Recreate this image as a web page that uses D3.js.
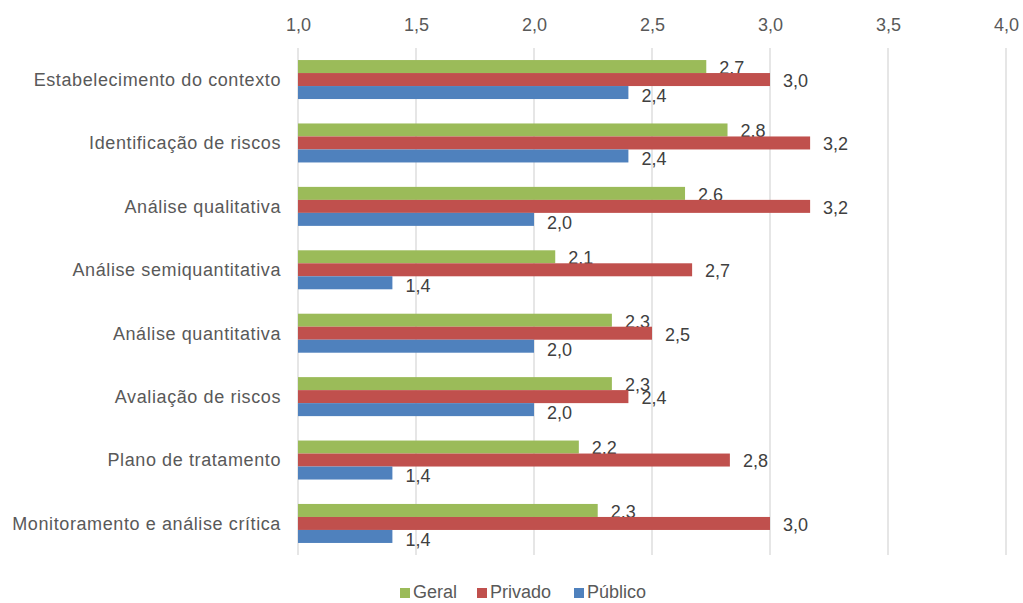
<!DOCTYPE html>
<html>
  <head>
    <meta charset="utf-8">
    <script src="https://cdn.jsdelivr.net/npm/d3@7/dist/d3.min.js"></script>
    <style>
      body { margin: 0; background: #fff; }
      text { font-family: Arial, "Liberation Sans", sans-serif; }
    </style>
  </head>
  <body>
    <svg width="1023" height="603"></svg>
    <script>
      // dados
      const categories = [
        'Estabelecimento do contexto',
        'Identificação de riscos',
        'Análise qualitativa',
        'Análise semiquantitativa ',
        'Análise quantitativa',
        'Avaliação de riscos',
        'Plano de tratamento',
        'Monitoramento e análise crítica'
      ]
      const geral = [2.73, 2.82, 2.64, 2.09, 2.33, 2.33, 2.19, 2.27]
      const privado = [3.0, 3.17, 3.17, 2.67, 2.5, 2.4, 2.83, 3.0]
      const publico = [2.4, 2.4, 2.0, 1.4, 2.0, 2.0, 1.4, 1.4]
      const seriesNames = ['Geral', 'Privado', 'Público']
      const ticks = [1.0, 1.5, 2.0, 2.5, 3.0, 3.5, 4.0]

      const colors = { Geral: '#9BBB59', Privado: '#C0504D', 'Público': '#4F81BD' }
      const series = { Geral: geral, Privado: privado, 'Público': publico }

      const svg = d3.select('svg')
      const fmt = (v) => d3.format('.1f')(v).replace('.', ',')

      const x = d3.scaleLinear().domain([1, 4]).range([298, 1006])
      const y = d3.scaleBand().domain(categories).range([48, 555]).paddingInner(0.385).paddingOuter(0.19)
      const ys = d3.scaleBand().domain(seriesNames).range([0, y.bandwidth()])

      // grade vertical
      svg.append('g')
        .selectAll('line')
        .data(ticks)
        .enter()
        .append('line')
        .attr('x1', (d) => x(d))
        .attr('x2', (d) => x(d))
        .attr('y1', 48)
        .attr('y2', 555)
        .attr('stroke', '#d9d9d9')
        .attr('stroke-width', 1.3)

      // eixo superior
      const axis = svg.append('g')
        .attr('transform', 'translate(0,25)')
        .call(d3.axisTop(x).tickValues(ticks).tickFormat(fmt).tickSize(0).tickPadding(0))
      axis.select('.domain').remove()
      axis.selectAll('text')
        .attr('dy', '0.35em')
        .attr('font-size', 18)
        .attr('fill', '#595959')
        .style('font-family', 'Arial, "Liberation Sans", sans-serif')

      // rótulos das categorias
      svg.append('g')
        .selectAll('text')
        .data(categories)
        .enter()
        .append('text')
        .attr('x', 281)
        .attr('y', (d) => y(d) + y.bandwidth() / 2)
        .attr('dy', '0.35em')
        .attr('text-anchor', 'end')
        .attr('font-size', 18)
        .attr('letter-spacing', 0.6)
        .attr('fill', '#595959')
        .text((d) => d)

      // barras
      seriesNames.forEach((s) => {
        const rows = categories.map((c, i) => ({ c, v: series[s][i] }))
        const g = svg.append('g')
        g.selectAll('rect')
          .data(rows)
          .enter()
          .append('rect')
          .attr('x', x(1))
          .attr('y', (d) => y(d.c) + ys(s))
          .attr('width', (d) => x(d.v) - x(1))
          .attr('height', ys.bandwidth())
          .attr('fill', colors[s])

        const dyOff = s === 'Geral' ? 1 : s === 'Privado' ? 1 : 3
        g.selectAll('text')
          .data(rows)
          .enter()
          .append('text')
          .attr('x', (d) => x(d.v) + 13)
          .attr('y', (d) => y(d.c) + ys(s) + ys.bandwidth() / 2 + dyOff)
          .attr('dy', '0.35em')
          .attr('font-size', 18)
          .attr('fill', '#404040')
          .text((d) => fmt(d.v))
      })

      // legenda
      const legendX = [400, 477, 574]
      const legend = svg.append('g')
        .selectAll('g')
        .data(seriesNames)
        .enter()
        .append('g')
        .attr('transform', (d, i) => `translate(${legendX[i]},592)`)
      legend.append('rect')
        .attr('x', 0)
        .attr('y', -4)
        .attr('width', 10)
        .attr('height', 10)
        .attr('fill', (d) => colors[d])
      legend.append('text')
        .attr('x', 13)
        .attr('dy', '0.35em')
        .attr('font-size', 18)
        .attr('fill', '#595959')
        .text((d) => d)
    </script>
  </body>
</html>
